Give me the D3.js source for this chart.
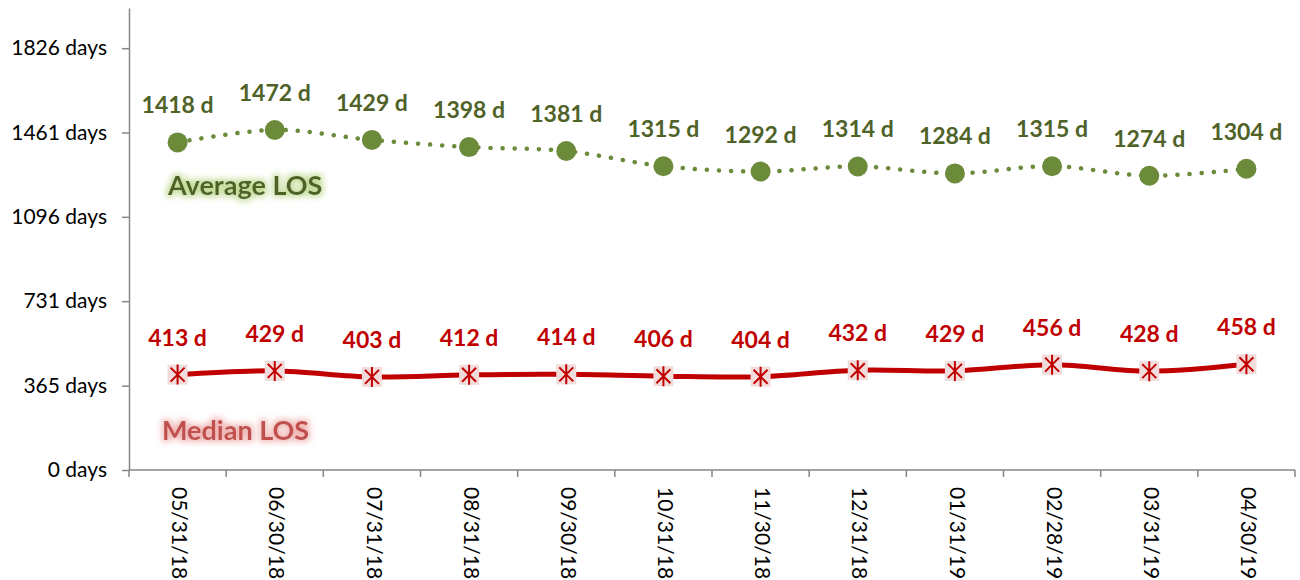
<!DOCTYPE html>
<html><head><meta charset="utf-8">
<script src="https://cdn.jsdelivr.net/npm/d3@7"></script>
<style>body{margin:0;background:#fff}svg{display:block}</style>
</head><body>
<svg id="c" width="1300" height="580"></svg>
<script>
const categories = ["05/31/18","06/30/18","07/31/18","08/31/18","09/30/18","10/31/18","11/30/18","12/31/18","01/31/19","02/28/19","03/31/19","04/30/19"];
const averageLOS = [1418,1472,1429,1398,1381,1315,1292,1314,1284,1315,1274,1304];
const medianLOS = [413,429,403,412,414,406,404,432,429,456,428,458];
const yTicks = [0,365,731,1096,1461,1826];
const seriesNames = ["Average LOS","Median LOS"];

(function(){
const svg = d3.select("#c");
const mLeft = 129, mRight = 1295, mTop = 8, mBottom = 470;
const x = d3.scaleBand().domain(categories).range([mLeft, mRight]);
const y = d3.scaleLinear().domain([0, 2000]).range([mBottom, mTop]);
const cx = d => x(d) + x.bandwidth()/2;

const defs = svg.append("defs");
function glow(id, color){
  const f = defs.append("filter").attr("id", id).attr("x","-20%").attr("y","-50%").attr("width","140%").attr("height","200%");
  f.append("feMorphology").attr("in","SourceAlpha").attr("operator","dilate").attr("radius",1.5).attr("result","d");
  f.append("feGaussianBlur").attr("in","d").attr("stdDeviation",3).attr("result","b");
  f.append("feFlood").attr("flood-color", color).attr("result","c");
  f.append("feComposite").attr("in","c").attr("in2","b").attr("operator","in").attr("result","g");
  const m = f.append("feMerge");
  m.append("feMergeNode").attr("in","g");
  m.append("feMergeNode").attr("in","SourceGraphic");
}
glow("gG", "#c5dc9a");
glow("gR", "#f0b8b6");

// Y axis
const yAxis = d3.axisLeft(y).tickValues(yTicks).tickFormat(d => d + " days").tickSize(7).tickSizeOuter(0);
const gy = svg.append("g").attr("transform", `translate(${mLeft},0)`).call(yAxis);
gy.select(".domain").attr("stroke","#868686").attr("stroke-width",1.5);
gy.selectAll(".tick line").attr("stroke","#868686").attr("stroke-width",1.5);
gy.selectAll(".tick text").attr("font-family","Lato, sans-serif").attr("font-size",21).attr("fill","#000").attr("x",-22);

// X axis
const xTickPositions = d3.range(categories.length + 1).map(i => mLeft + i * x.step());
svg.append("line").attr("x1",mLeft).attr("x2",mRight).attr("y1",mBottom).attr("y2",mBottom).attr("stroke","#868686").attr("stroke-width",1.5);
svg.selectAll(".xt").data(xTickPositions).join("line")
  .attr("x1",d=>d).attr("x2",d=>d).attr("y1",mBottom).attr("y2",mBottom+7).attr("stroke","#868686").attr("stroke-width",1.5);
svg.selectAll(".xl").data(categories).join("text")
  .attr("transform", d => `translate(${cx(d)},${mBottom+17}) rotate(90)`)
  .attr("font-family","Lato, sans-serif").attr("font-size",21).attr("fill","#000")
  .attr("text-anchor","start").attr("dominant-baseline","middle").text(d=>d);

// Average line
const green = "#6b8a3a";
const lineGen = d3.line().x((d,i)=>cx(categories[i])).y(d=>y(d)).curve(d3.curveCatmullRom.alpha(0.5));
svg.append("path").attr("d", lineGen(averageLOS)).attr("fill","none").attr("stroke",green)
  .attr("stroke-width",4.5).attr("stroke-linecap","round").attr("stroke-dasharray","0.1 12");
svg.selectAll(".ac").data(averageLOS).join("circle")
  .attr("cx",(d,i)=>cx(categories[i])).attr("cy",d=>y(d)).attr("r",10).attr("fill",green);
svg.selectAll(".al").data(averageLOS).join("text")
  .attr("x",(d,i)=>cx(categories[i])).attr("y",d=>y(d)-29)
  .attr("text-anchor","middle").attr("font-family","Lato, sans-serif").attr("font-weight","bold")
  .attr("font-size",23).attr("fill","#4f6228").text(d=>d+" d");

// Median line
const red = "#c00000";
svg.append("path").attr("d", lineGen(medianLOS)).attr("fill","none").attr("stroke",red).attr("stroke-width",5);
const mg = svg.selectAll(".mm").data(medianLOS).join("g")
  .attr("transform",(d,i)=>`translate(${cx(categories[i])},${y(d)})`);
mg.append("rect").attr("x",-10).attr("y",-10).attr("width",20).attr("height",20).attr("fill","#f2dcdb");
mg.append("path").attr("d","M-7,-7L7,7M-7,7L7,-7M0,-10L0,10").attr("stroke",red).attr("stroke-width",2);
svg.selectAll(".ml").data(medianLOS).join("text")
  .attr("x",(d,i)=>cx(categories[i])).attr("y",d=>y(d)-29)
  .attr("text-anchor","middle").attr("font-family","Lato, sans-serif").attr("font-weight","bold")
  .attr("font-size",23).attr("fill",red).text(d=>d+" d");

// Series name labels
svg.append("text").attr("x",168).attr("y",195).attr("font-family","Lato, sans-serif").attr("font-weight","bold")
  .attr("font-size",27).attr("fill","#4f6228").attr("filter","url(#gG)").text(seriesNames[0]);
svg.append("text").attr("x",162).attr("y",440).attr("font-family","Lato, sans-serif").attr("font-weight","bold")
  .attr("font-size",27).attr("fill","#c0504d").attr("filter","url(#gR)").text(seriesNames[1]);
})();
</script>
</body></html>
